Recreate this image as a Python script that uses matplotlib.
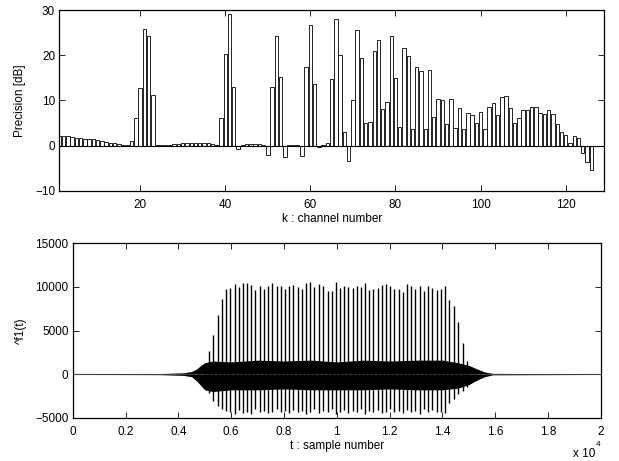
import matplotlib
matplotlib.use('Agg')
import matplotlib.pyplot as plt
import numpy as np

plt.rcParams['font.family'] = ['Liberation Sans', 'DejaVu Sans']
plt.rcParams['font.size'] = 8.5

# precision per channel (dB), channels 1..128
precision = [2.1, 2.1, 2.05, 1.9, 1.75, 1.7, 1.6, 1.6, 1.45, 1.25,
             0.95, 0.75, 0.6, 0.5, 0.4, 0.25, 0.2, 1.0, 6.2, 12.8,
             25.9, 24.2, 11.3, 0.1, 0.1, 0.15, 0.2, 0.3, 0.4, 0.5,
             0.55, 0.6, 0.6, 0.6, 0.55, 0.5, 0.4, 0.25, 6.2, 20.3,
             29.1, 13.0, -0.8, 0.2, 0.35, 0.45, 0.45, 0.35, 0.15, -2.0,
             13.0, 24.3, 15.2, -2.4, 0.1, 0.2, 0.2, -2.3, 17.5, 26.7,
             13.6, -0.2, 0.2, 0.6, 14.7, 28.1, 20.1, 3.1, -3.3, 10.2,
             25.6, 19.3, 5.1, 5.3, 21.0, 23.4, 8.2, 9.6, 24.2, 14.9,
             4.1, 21.5, 19.9, 3.8, 17.3, 16.5, 3.7, 16.8, 6.3, 10.3,
             10.2, 4.8, 10.4, 4.0, 8.4, 3.7, 7.3, 6.9, 5.1, 7.5,
             3.7, 8.6, 9.5, 6.8, 10.7, 11.1, 8.4, 5.1, 6.1, 7.8,
             7.8, 8.6, 8.5, 7.3, 7.1, 7.8, 7.0, 4.9, 3.1, 2.3,
             0.5, 2.1, 1.8, -1.5, -3.7, -5.3, 0.0, 0.0]
channels = np.arange(1, len(precision) + 1)

# pitch pulses of the reconstructed signal: sample, peak, trough
spike_t = [5000, 5163, 5326, 5491, 5655, 5807, 5970, 6136, 6288, 6451,
           6602, 6766, 6917, 7083, 7246, 7398, 7561, 7727, 7879, 8042,
           8205, 8356, 8523, 8674, 8837, 9000, 9152, 9318, 9493, 9650,
           9811, 9962, 10125, 10277, 10440, 10606, 10758, 10920, 11072, 11235,
           11386, 11553, 11705, 11867, 12030, 12182, 12348, 12500, 12663, 12826,
           12977, 13144, 13295, 13458, 13621, 13788, 13951, 14102, 14265, 14432,
           14595, 14758, 14924]
spike_hi = [1200, 2650, 4500, 6800, 8600, 9750, 9900, 10300, 10000, 10400,
            10500, 10200, 9600, 10100, 9750, 10100, 10450, 10100, 10100, 9800,
            10050, 10200, 9950, 9800, 10450, 10600, 10000, 10300, 10100, 9500,
            9500, 10600, 9900, 10100, 10000, 9900, 10100, 10000, 10500, 9700,
            9750, 9900, 10200, 10300, 10050, 9800, 9800, 9400, 10300, 10100,
            9750, 10050, 9500, 10050, 9900, 9700, 9750, 10100, 8500, 7800,
            6000, 3600, 1500]
spike_lo = [-1500, -2200, -3100, -3700, -4000, -4200, -4400, -4600, -4100, -4500,
            -4300, -4600, -4000, -4400, -4200, -4500, -4300, -4000, -4400, -4200,
            -4500, -4100, -4400, -4200, -4600, -4300, -4000, -4500, -4200, -4400,
            -4000, -4600, -4300, -4100, -4500, -4200, -4400, -4000, -4600, -4200,
            -4400, -4100, -4500, -4300, -4000, -4400, -4200, -4500, -4100, -4400,
            -4200, -4600, -4000, -4300, -4100, -4300, -4400, -4450, -3300, -2800,
            -2300, -1900, -1500]

# envelope of the dense part between the pulses
env_t = [0, 3300, 4200, 4500, 4700, 4850, 5000, 5300, 6000, 7000, 8000,
         9000, 10000, 11000, 12000, 13000, 14000, 14600, 15000, 15300,
         15600, 15900, 20000]
env_hi = [40, 60, 150, 300, 600, 1000, 1300, 1500, 1400, 1600, 1500,
          1600, 1400, 1600, 1500, 1600, 1600, 1300, 1000, 600,
          250, 80, 40]
env_lo = [-40, -60, -150, -300, -800, -1300, -1800, -2000, -1800, -1800, -1700,
          -1800, -1800, -1800, -1700, -1800, -1800, -1600, -1200, -700,
          -300, -80, -40]

fig = plt.figure(figsize=(6.19, 4.61), dpi=100)

ax1 = fig.add_axes([0.0958, 0.5857, 0.8800, 0.3926])
ax1.bar(channels, precision, width=0.8, facecolor='white',
        edgecolor='black', linewidth=0.6)
ax1.axhline(0, color='black', linewidth=0.8)
ax1.set_xlim(1, 129)
ax1.set_ylim(-10, 30)
ax1.set_xticks([20, 40, 60, 80, 100, 120])
ax1.set_yticks([-10, 0, 10, 20, 30])
ax1.set_yticklabels(['\u221210', '0', '10', '20', '30'])
ax1.set_xlabel('k : channel number')
ax1.set_ylabel('Precision [dB]')
ax1.xaxis.set_label_coords(0.5, -0.12)
ax1.yaxis.set_label_coords(-0.061, 0.5)

ax2 = fig.add_axes([0.1174, 0.0939, 0.8535, 0.3783])
ax2.axhline(0, color='0.25', linewidth=0.8)
ax2.fill_between(env_t, env_lo, env_hi, color='black', linewidth=0)
ax2.vlines(spike_t, spike_lo, spike_hi, color='black', linewidth=1.0)
ax2.set_xlim(0, 20000)
ax2.set_ylim(-5000, 15000)
ax2.set_xticks(np.arange(0, 20001, 2000))
ax2.set_xticklabels(['0', '0.2', '0.4', '0.6', '0.8', '1', '1.2', '1.4',
                     '1.6', '1.8', '2'])
ax2.set_yticks([-5000, 0, 5000, 10000, 15000])
ax2.set_yticklabels(['\u22125000', '0', '5000', '10000', '15000'])
ax2.set_xlabel('t : sample number')
ax2.set_ylabel('^f1(t)')
ax2.xaxis.set_label_coords(0.5, -0.125)
ax2.yaxis.set_label_coords(-0.086, 0.5)

for ax in (ax1, ax2):
    ax.tick_params(direction='in', top=True, right=True, length=4,
                   width=0.6, labelsize=8.5)
    ax.tick_params(axis='x', pad=6)
    ax.tick_params(axis='y', pad=3)
    for s in ax.spines.values():
        s.set_linewidth(0.9)

fig.text(595 / 619, 1 - 457 / 461, 'x 10', ha='right', va='baseline',
         fontsize=8.5)
fig.text(596 / 619, 1 - 446 / 461, '4', ha='left', va='baseline',
         fontsize=6)

fig.savefig('out.png', dpi=100)
